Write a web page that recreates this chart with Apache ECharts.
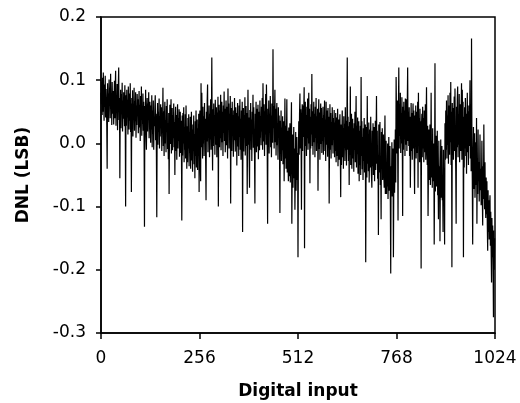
<!DOCTYPE html>
<html><head><meta charset="utf-8">
<script src="https://cdn.jsdelivr.net/npm/echarts@6/dist/echarts.min.js"></script>
<style>html,body{margin:0;padding:0;background:#fff}#c{width:520px;height:403px}</style>
</head><body><div id="c"></div>
<script>
// DNL (LSB) per digital code 0..1023
const dnl = [
.080,.062,.098,.045,.104,.050,.112,.071,.036,.093,.058,.107,.041,.086,.066,.030,-.040,.095,.052,.079,.034,.101,.063,.088,.040,.110,.055,.076,.029,.097,.061,.047,
.083,.030,.071,.099,.040,.088,.115,.028,.075,.049,.094,.021,.066,.090,.120,.037,.072,-.055,.052,.085,.024,.078,.046,.096,.019,.068,.039,.081,.055,.027,.092,.043,
-.100,.076,.028,.085,.041,.069,.014,.090,.053,.022,.079,.036,.095,.018,.063,-.077,.072,.031,.084,.011,.058,.040,.088,.020,.067,.035,.081,.009,.060,.029,.078,.043,
.070,.016,.057,.083,.025,.061,.004,.075,.038,.090,.012,.055,.031,.079,.020,.066,.002,-.132,.059,.027,.085,.010,-.010,.050,.072,.019,.063,.037,.081,.008,.048,.066,
.045,.001,.060,.022,.076,-.006,.052,.015,.068,-.010,.040,.027,.058,.076,.005,.047,-.015,-.117,.036,.064,-.002,.050,.018,.071,-.008,.043,.011,.062,.024,.057,-.012,.039,
.030,.088,-.004,.051,-.020,.043,.066,.000,.037,-.014,.059,.019,.070,-.009,.032,-.025,.048,-.080,.016,.061,-.001,.040,.070,-.016,.028,.056,-.011,.045,.008,.063,-.006,.034,
-.050,.037,.058,-.012,.045,-.026,.020,.062,-.008,.040,.004,.054,-.021,.029,.050,-.015,.036,.002,-.122,.044,-.019,.048,.000,.057,-.030,.026,-.010,.046,-.024,.060,.009,-.040,
.027,-.030,.040,-.008,.046,-.036,.018,-.015,.042,-.040,.006,.050,-.027,.030,-.045,.022,-.012,.044,-.033,.015,-.055,.035,-.020,.052,-.038,.010,.038,-.042,.024,-.016,.047,-.077,
.018,.052,-.028,-.060,.095,-.006,.080,.030,-.024,.058,.000,.043,-.020,.064,.012,.039,-.027,-.090,.050,.003,.068,.093,-.014,.041,.010,.060,-.022,.047,.006,.070,-.010,.036,
.136,.015,-.043,.054,-.004,.063,.012,.045,-.018,.069,.026,-.002,.057,-.022,.049,.013,.074,-.100,.036,.061,-.006,.052,.008,.077,-.011,.033,.066,.002,.050,-.020,.060,.017,
.082,.004,.055,-.014,.042,.068,-.003,.058,.021,-.024,.087,.030,.063,-.008,.047,.009,.075,-.095,.035,.056,-.012,.066,.014,.045,-.021,.052,.005,.072,.024,-.013,.057,.011,
.048,-.035,.034,.064,-.005,.043,-.020,.060,.010,.070,-.010,.039,-.026,.052,.003,.066,-.140,.029,.056,-.013,.045,.008,.073,-.019,.033,.059,-.004,.048,-.080,.022,.085,-.002,
.041,-.022,-.070,.053,.006,.064,-.010,.038,-.028,.050,.015,.077,-.007,.057,.004,-.018,-.095,.047,.016,.066,-.014,.035,.055,-.005,.061,-.025,.030,.050,-.011,.068,.009,.043,
-.003,.058,.019,.072,-.010,.095,.036,.003,.062,-.020,.051,.014,.078,-.002,.093,.033,-.012,-.127,.055,.008,.068,-.016,.047,.017,.075,-.006,.044,-.022,.063,.026,.001,.149,
.024,.059,-.008,.049,.085,.002,.055,-.019,.040,.064,-.003,.031,-.026,.057,.010,.044,-.015,-.110,.036,-.006,.052,-.028,.025,-.011,.043,-.033,.018,.035,-.060,.000,.071,-.024,
.028,-.040,.012,.070,-.046,.020,-.025,-.060,.025,-.052,-.010,.032,-.062,-.028,.015,.065,-.127,-.035,.014,-.070,-.020,.026,-.055,-.008,-.105,-.045,.018,-.075,-.030,.010,-.058,-.015,
-.180,-.020,.035,-.018,.046,.079,-.008,.054,.006,-.105,.040,.062,-.012,.060,.010,.050,.089,-.166,.030,.066,-.004,.045,-.020,.058,.008,.071,-.010,.038,.080,.000,.055,-.063,
.042,-.008,.062,.014,.110,-.004,.051,-.018,.037,.066,.002,.047,-.022,.058,.009,.072,-.012,.043,.004,.055,-.075,.032,.070,-.009,.049,-.026,.036,.063,-.001,.056,-.015,.040,
.004,.058,-.018,.045,.011,.068,-.012,.038,-.028,.066,-.002,.052,.014,-.021,.056,.000,.042,-.095,.008,.062,-.010,.048,-.024,.034,-.003,.057,.060,-.016,.040,.006,.053,-.022,
.033,-.012,.048,-.030,.022,.041,-.020,.055,-.036,.017,.038,-.026,.028,.046,-.016,-.085,.030,-.034,.012,.052,-.022,.024,-.040,.043,-.007,.031,-.028,.057,-.011,.036,-.035,.020,
.136,-.010,.042,-.028,.027,-.066,.034,-.018,.090,-.034,.018,.047,-.040,.011,.039,-.024,.024,-.045,.032,-.010,.050,-.030,.015,.075,-.038,.028,-.017,.041,-.048,.008,.035,-.060,
.020,-.034,.028,-.050,.105,-.020,.035,-.041,.010,-.058,.024,-.028,.040,-.046,-.012,.030,-.188,-.024,.026,-.054,.075,-.032,.015,-.044,.033,-.062,-.016,.022,-.038,.042,-.025,-.052,
-.070,.020,-.036,.032,-.050,-.014,.026,-.060,-.024,.036,-.042,.010,.075,-.032,.020,-.056,-.018,-.145,.030,-.046,-.008,.034,-.066,-.026,-.120,.018,-.040,.024,-.058,-.030,.014,-.048,
-.070,-.010,.044,-.080,-.045,.004,-.080,-.040,-.068,.000,-.088,-.044,.010,-.075,-.052,-.004,-.092,-.206,-.036,-.064,.002,-.084,-.050,-.008,-.180,-.060,.006,-.078,-.040,.022,-.062,.105,
.042,-.016,.068,.004,-.122,.055,.120,-.008,.062,.012,.080,-.015,.048,.000,.073,.018,-.115,.058,-.010,.066,.006,.052,-.020,.071,-.002,.045,.070,-.012,.060,.120,.004,.050,
-.004,.057,-.020,.042,-.070,.002,.064,-.012,.048,-.026,.036,.063,-.008,.052,-.018,-.080,.044,-.002,.060,-.024,.030,.050,-.015,.066,-.070,.080,-.004,.040,-.030,.055,-.010,.035,
-.198,.030,.047,-.022,.058,-.008,.040,-.030,.052,-.003,-.014,.062,-.026,.034,.089,-.012,-.034,.028,-.115,-.044,.022,-.058,-.026,.030,-.066,-.036,.080,-.054,.004,-.070,.024,-.046,
-.060,.000,-.160,-.048,.127,-.076,-.032,.012,-.068,-.040,.020,-.082,-.052,-.120,.004,-.072,-.036,-.155,-.058,.006,-.086,-.046,-.004,-.090,-.060,-.140,-.010,-.078,-.040,-.160,.032,-.026,
.052,-.010,.068,-.024,.044,-.002,.076,-.032,.038,.060,-.018,.080,.002,.097,-.034,.050,-.196,.064,-.008,.056,-.026,.040,.074,-.012,.087,.004,-.044,-.127,.058,-.006,.070,.090,
-.022,.046,-.002,.078,-.030,.040,.062,-.012,.052,.095,-.026,.085,.006,.066,-.180,.042,-.038,.057,-.008,.072,-.020,.047,-.048,.032,.080,-.014,.051,-.034,.060,-.004,.044,.100,
-.024,.052,-.044,.166,.010,-.058,-.160,-.030,.026,-.072,-.044,.016,-.086,-.052,.002,-.066,.040,-.127,-.036,-.080,.022,-.060,-.030,-.092,-.046,.014,-.074,-.040,-.098,-.054,.004,-.082,
-.130,-.036,-.088,.030,-.050,-.104,-.030,-.096,-.118,-.054,-.112,-.060,-.130,-.170,-.074,-.140,-.090,-.152,-.100,-.082,-.162,-.108,-.172,-.220,-.118,-.180,-.130,-.192,-.275,-.138,-.200,-.150
];
const xTicks = [0, 256, 512, 768, 1024];
const yTicks = [-0.3, -0.2, -0.1, 0.0, 0.1, 0.2];
const xTitle = 'Digital input';
const yTitle = 'DNL (LSB)';

const points = dnl.map((v, i) => [i, v]);
const chart = echarts.init(document.getElementById('c'), null, {renderer: 'canvas'});
const font = '"DejaVu Sans", Arial, sans-serif';
chart.setOption({
  animation: false,
  backgroundColor: '#fff',
  grid: {left: 101, right: 25, top: 17, bottom: 70, show: true, borderColor: '#000', borderWidth: 1.5,
    containLabel: false, outerBoundsMode: 'none'},
  xAxis: {
    type: 'value', min: xTicks[0], max: xTicks[xTicks.length - 1], interval: 256,
    name: xTitle, nameLocation: 'middle', nameGap: 50,
    nameTextStyle: {fontFamily: font, fontSize: 17, fontWeight: 'bold', color: '#000'},
    axisLine: {show: true, onZero: false, lineStyle: {color: '#000', width: 1.5}},
    axisTick: {show: true, inside: false, length: 6, lineStyle: {color: '#000', width: 1.5}},
    axisLabel: {fontFamily: font, fontSize: 17, color: '#000', margin: 17,
      formatter: v => String(v)},
    splitLine: {show: false}
  },
  yAxis: {
    type: 'value', min: yTicks[0], max: yTicks[yTicks.length - 1], interval: 0.1,
    name: yTitle, nameLocation: 'middle', nameGap: 69, nameRotate: 90,
    nameTextStyle: {fontFamily: font, fontSize: 17, fontWeight: 'bold', color: '#000'},
    axisLine: {show: true, onZero: false, lineStyle: {color: '#000', width: 1.5}},
    axisTick: {show: true, inside: false, length: 5, lineStyle: {color: '#000', width: 1.5}},
    axisLabel: {fontFamily: font, fontSize: 17, color: '#000', margin: 15,
      formatter: v => (Math.abs(v) < 1e-9 ? 0 : v).toFixed(1)},
    splitLine: {show: false}
  },
  series: [{
    type: 'line', data: points, symbol: 'none', showSymbol: false,
    lineStyle: {color: '#000', width: 1.2}, silent: true
  }]
});
</script></body></html>
